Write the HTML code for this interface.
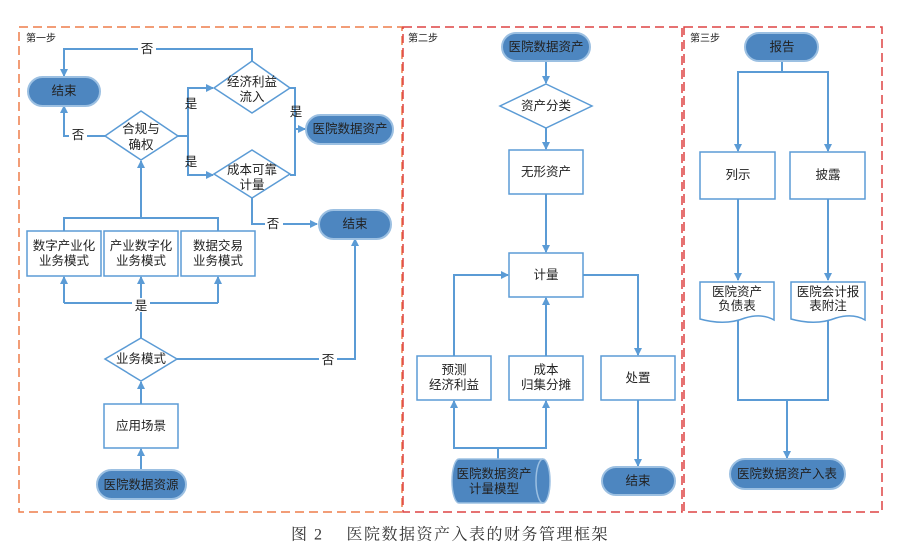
<!DOCTYPE html>
<html><head><meta charset="utf-8"><style>
html,body{margin:0;padding:0;background:#fff;}
svg{display:block;}
text{font-family:"Liberation Sans","Noto Sans CJK SC",sans-serif;font-size:12.5px;fill:#222;text-anchor:middle;dominant-baseline:central;}
.s{font-size:10px;text-anchor:start;}
.b{fill:#fff;stroke:#5b9bd5;stroke-width:1.5;}
.p{fill:#4d86c0;stroke:#9cc0e2;stroke-width:2;}
.l{fill:none;stroke:#5b9bd5;stroke-width:2;}
.cap{font-family:"Liberation Serif","Noto Serif CJK SC",serif;font-size:16px;fill:#333;letter-spacing:1.5px;}
</style></head><body>
<svg width="906" height="555" viewBox="0 0 906 555" xmlns="http://www.w3.org/2000/svg">
<defs><marker id="a" markerWidth="8" markerHeight="8" refX="7" refY="4" orient="auto" markerUnits="userSpaceOnUse"><path d="M0,0 L8,4 L0,8 z" fill="#5b9bd5"/></marker></defs>
<rect x="19" y="27" width="383" height="485" fill="none" stroke="#ee7d4a" stroke-width="1.5" stroke-dasharray="9,5"/>
<rect x="403" y="27" width="279" height="485" fill="none" stroke="#dd4444" stroke-width="1.5" stroke-dasharray="9,5"/>
<rect x="684" y="27" width="198" height="485" fill="none" stroke="#dd4444" stroke-width="1.5" stroke-dasharray="9,5"/>
<text class="s" x="26" y="39">第一步</text>
<text class="s" x="408" y="39">第二步</text>
<text class="s" x="690" y="39">第三步</text>

<path class="l" d="M252,61 V49 H64 V76" marker-end="url(#a)"/>
<path class="l" d="M105,136 H64 V106" marker-end="url(#a)"/>
<path class="l" d="M178,136 H188 V88 H213" marker-end="url(#a)"/>
<path class="l" d="M188,136 V175 H213" marker-end="url(#a)"/>
<path class="l" d="M290,88 H295 V175 H290"/>
<path class="l" d="M295,129 H305" marker-end="url(#a)"/>
<path class="l" d="M252,198 V224 H317" marker-end="url(#a)"/>
<path class="l" d="M64,231 V218 H218 V231"/>
<path class="l" d="M141,218 V161" marker-end="url(#a)"/>
<path class="l" d="M141,338 V303"/>
<path class="l" d="M64,303 H218"/>
<path class="l" d="M64,303 V277" marker-end="url(#a)"/>
<path class="l" d="M141,303 V277" marker-end="url(#a)"/>
<path class="l" d="M218,303 V277" marker-end="url(#a)"/>
<path class="l" d="M177,359 H355 V239" marker-end="url(#a)"/>
<path class="l" d="M141,404 V382" marker-end="url(#a)"/>
<path class="l" d="M141,470 V449" marker-end="url(#a)"/>

<rect x="138" y="42" width="18" height="14" fill="#fff"/><text x="147" y="49">否</text>
<rect x="69" y="127" width="18" height="16" fill="#fff"/><text x="78" y="135">否</text>
<text x="191" y="104">是</text>
<text x="191" y="162">是</text>
<text x="296" y="112">是</text>
<rect x="265" y="217" width="18" height="14" fill="#fff"/><text x="273" y="224">否</text>
<rect x="132" y="298" width="18" height="14" fill="#fff"/><text x="141" y="306">是</text>
<rect x="319" y="352" width="18" height="14" fill="#fff"/><text x="328" y="360">否</text>

<rect class="p" x="28" y="77" width="72" height="29" rx="14.5"/><text x="64" y="91">结束</text>
<polygon class="b" points="252,61 290,88 252,113 214,88"/><text x="252" y="82">经济利益</text><text x="252" y="97">流入</text>
<polygon class="b" points="141,111 178,136 141,160 105,136"/><text x="141" y="129">合规与</text><text x="141" y="145">确权</text>
<polygon class="b" points="252,150 290,174 252,198 214,174"/><text x="252" y="170">成本可靠</text><text x="252" y="185">计量</text>
<rect class="p" x="306" y="115" width="87" height="29" rx="14.5"/><text x="350" y="129">医院数据资产</text>
<rect class="p" x="319" y="210" width="72" height="29" rx="14.5"/><text x="355" y="224">结束</text>
<rect class="b" x="27" y="231" width="74" height="45"/><text x="64" y="246">数字产业化</text><text x="64" y="261">业务模式</text>
<rect class="b" x="104" y="231" width="74" height="45"/><text x="141" y="246">产业数字化</text><text x="141" y="261">业务模式</text>
<rect class="b" x="181" y="231" width="74" height="45"/><text x="218" y="246">数据交易</text><text x="218" y="261">业务模式</text>
<polygon class="b" points="141,338 177,359 141,381 105,359"/><text x="141" y="359">业务模式</text>
<rect class="b" x="104" y="404" width="74" height="44"/><text x="141" y="426">应用场景</text>
<rect class="p" x="97" y="470" width="89" height="29" rx="14.5"/><text x="141" y="485">医院数据资源</text>

<path class="l" d="M546,61 V83" marker-end="url(#a)"/>
<path class="l" d="M546,128 V149" marker-end="url(#a)"/>
<path class="l" d="M546,194 V252" marker-end="url(#a)"/>
<path class="l" d="M454,356 V275 H508" marker-end="url(#a)"/>
<path class="l" d="M546,356 V298" marker-end="url(#a)"/>
<path class="l" d="M583,275 H638 V355" marker-end="url(#a)"/>
<path class="l" d="M498,459 V448 H454 V401" marker-end="url(#a)"/>
<path class="l" d="M498,448 H546 V401" marker-end="url(#a)"/>
<path class="l" d="M638,400 V466" marker-end="url(#a)"/>
<rect class="p" x="502" y="33" width="88" height="28" rx="14"/><text x="546" y="47">医院数据资产</text>
<polygon class="b" points="546,84 592,106 546,128 500,106"/><text x="546" y="106">资产分类</text>
<rect class="b" x="509" y="150" width="74" height="44"/><text x="546" y="172">无形资产</text>
<rect class="b" x="509" y="253" width="74" height="44"/><text x="546" y="275">计量</text>
<rect class="b" x="417" y="356" width="74" height="44"/><text x="454" y="370">预测</text><text x="454" y="385">经济利益</text>
<rect class="b" x="509" y="356" width="74" height="44"/><text x="546" y="370">成本</text><text x="546" y="385">归集分摊</text>
<rect class="b" x="601" y="356" width="74" height="44"/><text x="638" y="378">处置</text>
<path d="M459,459 H543 A7,22 0 0 1 543,503 H459 A7,22 0 0 1 459,459 z" fill="#4d86c0" stroke="#9cc0e2" stroke-width="1.5"/>
<path d="M543,459 A7,22 0 0 0 543,503" fill="none" stroke="#9cc0e2" stroke-width="1.5"/>
<text x="494" y="474">医院数据资产</text><text x="494" y="489">计量模型</text>
<rect class="p" x="602" y="467" width="73" height="28" rx="14"/><text x="638" y="481">结束</text>

<path class="l" d="M782,61 V72 H738 V151" marker-end="url(#a)"/>
<path class="l" d="M782,72 H828 V151" marker-end="url(#a)"/>
<path class="l" d="M738,199 V280" marker-end="url(#a)"/>
<path class="l" d="M828,199 V280" marker-end="url(#a)"/>
<path class="l" d="M738,318 V400 H828 V318"/>
<path class="l" d="M787,400 V458" marker-end="url(#a)"/>
<rect class="p" x="745" y="33" width="73" height="28" rx="14"/><text x="782" y="47">报告</text>
<rect class="b" x="700" y="152" width="75" height="47"/><text x="738" y="175">列示</text>
<rect class="b" x="790" y="152" width="75" height="47"/><text x="828" y="175">披露</text>
<path class="b" d="M700,282 H774 V320 Q762,313 745,318 Q725,326 700,319 z"/>
<text x="737" y="292">医院资产</text><text x="737" y="306">负债表</text>
<path class="b" d="M791,282 H865 V320 Q853,313 836,318 Q816,326 791,319 z"/>
<text x="828" y="292">医院会计报</text><text x="828" y="306">表附注</text>
<rect class="p" x="730" y="459" width="115" height="30" rx="15"/><text x="787" y="474">医院数据资产入表</text>

<text class="cap" x="450" y="535">图 2　 医院数据资产入表的财务管理框架</text>
</svg>
</body></html>
